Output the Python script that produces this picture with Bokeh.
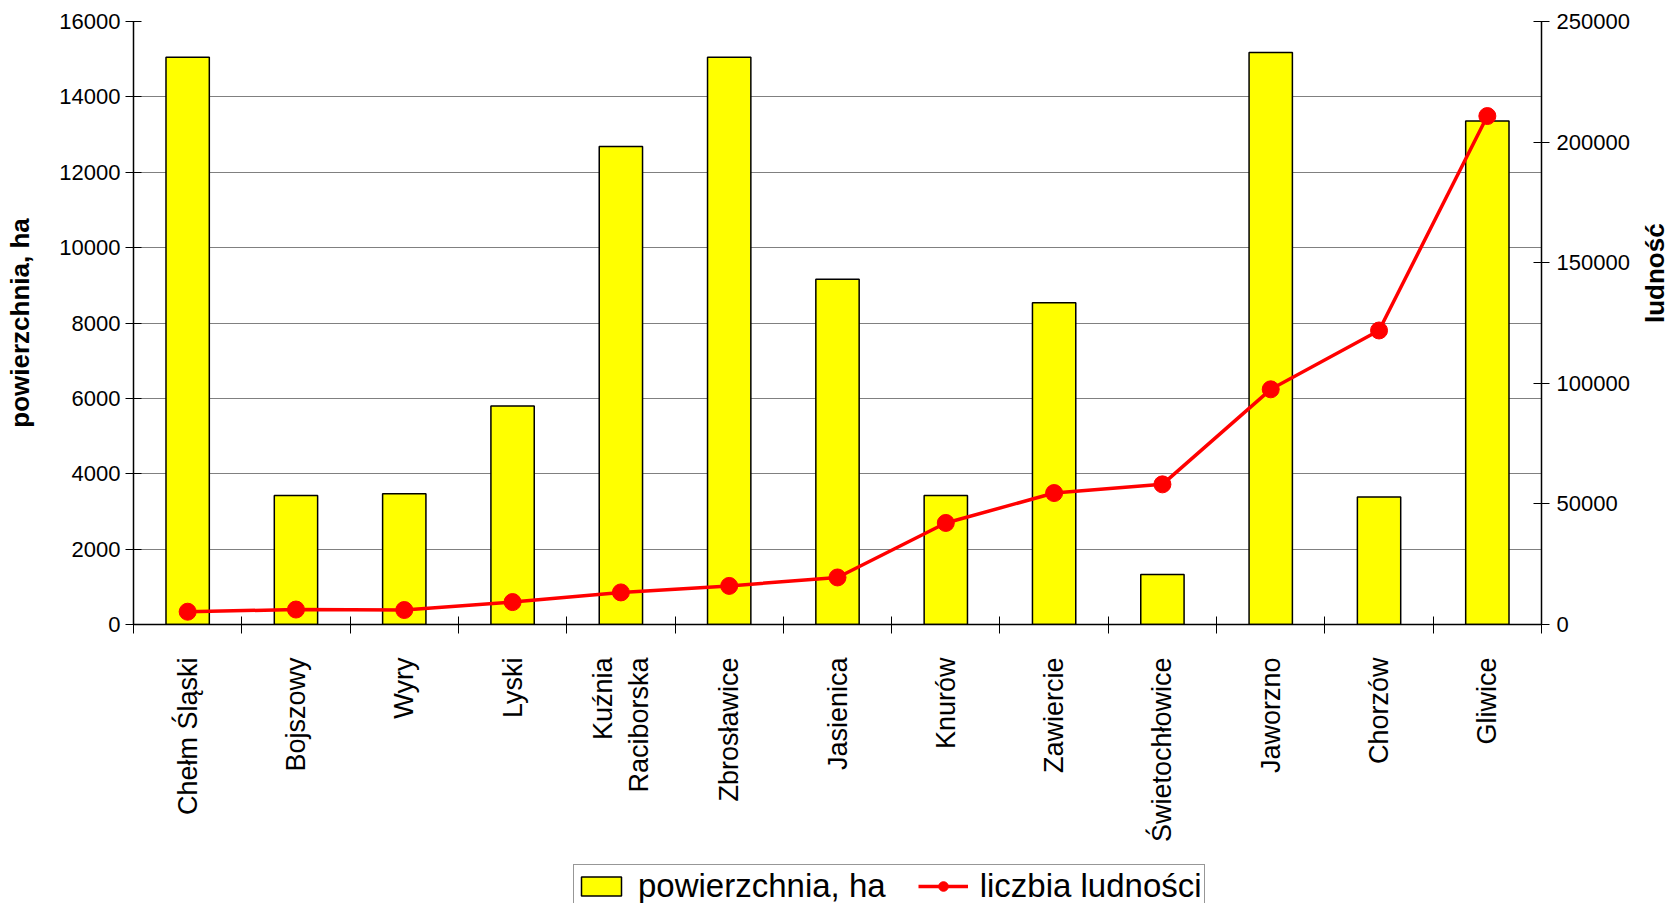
import math
from bokeh.plotting import figure
from bokeh.layouts import column
from bokeh.models import (Range1d, LinearAxis, FixedTicker, Legend, LegendItem,
                          ColumnDataSource, BasicTickFormatter)
from bokeh.embed import file_html
from bokeh.resources import INLINE

categories = ["Chełm Śląski", "Bojszowy", "Wyry", "Lyski", "Kuźnia\nRaciborska",
              "Zbrosławice", "Jasienica", "Knurów", "Zawiercie", "Świetochłowice",
              "Jaworzno", "Chorzów", "Gliwice"]
area_ha = [15050, 3420, 3470, 5800, 12680, 15050, 9160, 3420, 8540, 1330, 15180, 3380, 13360]
population = [5300, 6200, 6000, 9300, 13300, 16000, 19500, 42100, 54500, 58100, 97500, 121900, 210800]
left_ticks = [0, 2000, 4000, 6000, 8000, 10000, 12000, 14000, 16000]
right_ticks = [0, 50000, 100000, 150000, 200000, 250000]
series_names = ["powierzchnia, ha", "liczbia ludności"]

xs = list(range(len(categories)))
src = ColumnDataSource(dict(x=xs, area=area_ha, pop=population))

FONT = "Liberation Sans"
BAR_STYLE = dict(fill_color="#FFFF00", line_color="black", line_width=1.5)
LINE_STYLE = dict(line_color="#FF0000", line_width=3.5)
PT_STYLE = dict(size=17, fill_color="#FF0000", line_color="#FF0000")

p = figure(frame_width=1408, frame_height=603, output_backend="svg", toolbar_location=None,
           x_range=Range1d(-0.5, len(categories) - 0.5), y_range=Range1d(0, 16000),
           min_border_left=133, min_border_right=134, min_border_top=21,
           min_border_bottom=0, outline_line_color=None)
p.extra_y_ranges = {"pop": Range1d(0, 250000)}

# grid
p.xgrid.visible = False
p.ygrid.grid_line_color = "#808080"
p.ygrid.grid_line_width = 1.2
p.ygrid.ticker = FixedTicker(ticks=left_ticks)

# bars and line
p.vbar(x="x", top="area", width=0.4, source=src, **BAR_STYLE)
p.line(x="x", y="pop", source=src, y_range_name="pop", **LINE_STYLE)
p.scatter(x="x", y="pop", source=src, y_range_name="pop", **PT_STYLE)

# left axis
ya = p.yaxis[0]
ya.ticker = FixedTicker(ticks=left_ticks)
ya.formatter = BasicTickFormatter(use_scientific=False)
ya.axis_label = "powierzchnia, ha"
ya.axis_label_text_font = FONT
ya.axis_label_text_font_style = "bold"
ya.axis_label_text_font_size = "26px"
ya.axis_label_text_color = "black"
ya.axis_label_standoff = 21
ya.major_label_text_font = FONT
ya.major_label_text_font_size = "22px"
ya.major_label_text_color = "black"
ya.major_tick_in = 8
ya.major_tick_out = 8
ya.minor_tick_line_color = None
ya.axis_line_color = "black"
ya.axis_line_width = 1.5
ya.major_tick_line_color = "black"
ya.major_label_standoff = 5

# right axis
ra = LinearAxis(y_range_name="pop", ticker=FixedTicker(ticks=right_ticks),
                formatter=BasicTickFormatter(use_scientific=False))
ra.axis_label = "ludność"
ra.axis_label_text_font = FONT
ra.axis_label_text_font_style = "bold"
ra.axis_label_text_font_size = "26px"
ra.axis_label_text_color = "black"
ra.axis_label_standoff = 22
ra.major_label_text_font = FONT
ra.major_label_text_font_size = "22px"
ra.major_label_text_color = "black"
ra.major_tick_in = 8
ra.major_tick_out = 8
ra.minor_tick_line_color = None
ra.axis_line_color = "black"
ra.axis_line_width = 1.5
ra.major_label_standoff = 7
if "axis_label_orientation" in ra.properties():
    ra.axis_label_orientation = math.pi / 2
p.add_layout(ra, "right")

# bottom axis
xa = p.xaxis[0]
xa.ticker = FixedTicker(ticks=xs, minor_ticks=[i - 0.5 for i in range(len(categories) + 1)])
xa.major_label_overrides = {i: c for i, c in enumerate(categories)}
xa.major_label_orientation = math.pi / 2
xa.major_label_text_font = FONT
xa.major_label_text_font_size = "27px"
xa.major_label_text_color = "black"
xa.major_tick_line_color = None
xa.major_tick_out = 0
xa.major_tick_in = 0
xa.minor_tick_in = 8
xa.minor_tick_out = 9
xa.minor_tick_line_color = "black"
xa.axis_line_color = "black"
xa.axis_line_width = 1.5
xa.major_label_standoff = 24

# legend strip below the chart (hidden proxy renderers carry the legend glyphs)
lf = figure(width=1675, height=63, output_backend="svg", toolbar_location=None,
            x_range=Range1d(0, 1), y_range=Range1d(0, 1), outline_line_color=None,
            min_border=0)
lf.axis.visible = False
lf.grid.visible = False
r_bar = lf.vbar(x="x", top="area", width=0.4, source=src, visible=False, **BAR_STYLE)
r_line = lf.line(x="x", y="pop", source=src, visible=False, **LINE_STYLE)
r_pt = lf.scatter(x="x", y="pop", source=src, visible=False, **PT_STYLE)
legend = Legend(items=[LegendItem(label=series_names[0], renderers=[r_bar]),
                       LegendItem(label=series_names[1], renderers=[r_line, r_pt])],
                orientation="horizontal", location=(440, 0),
                label_text_font=FONT, label_text_font_size="33px",
                label_text_color="black",
                glyph_width=50, glyph_height=24, spacing=32, padding=2,
                margin=0, label_standoff=12, label_height=30,
                inactive_fill_alpha=0.0,
                border_line_color="#303030", border_line_width=1.2)
lf.add_layout(legend, "center")

layout = column(p, lf, spacing=0)
open("out.html", "w").write(file_html(layout, INLINE))
